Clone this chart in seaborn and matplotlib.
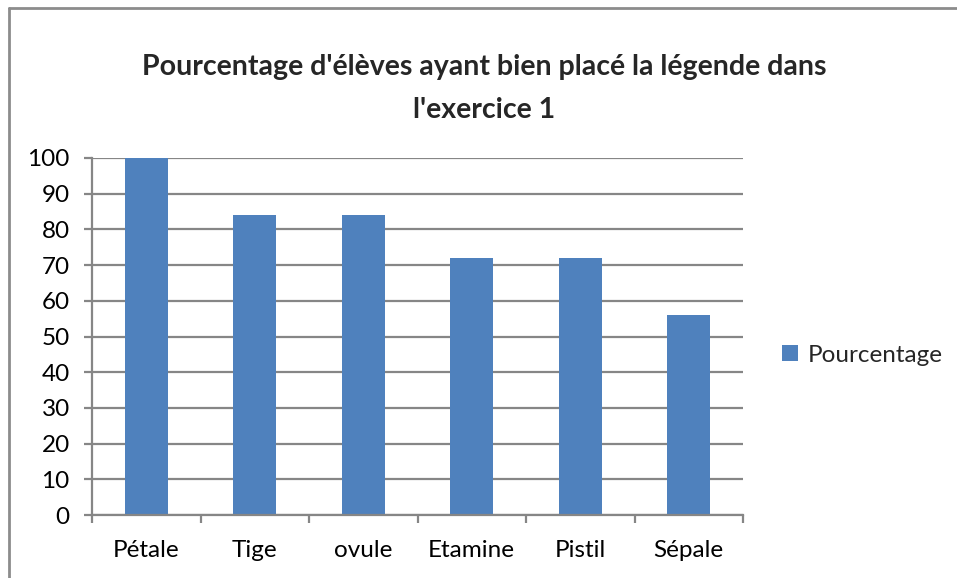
import matplotlib
matplotlib.use("Agg")
import matplotlib.pyplot as plt
from matplotlib.lines import Line2D
from matplotlib.ticker import FixedLocator
import seaborn as sns
import pandas as pd

categories = ["Pétale", "Tige", "ovule", "Etamine", "Pistil", "Sépale"]
values = [100, 84, 84, 72, 72, 56]
series_name = "Pourcentage"
yticks = [0, 10, 20, 30, 40, 50, 60, 70, 80, 90, 100]
title_lines = ["Pourcentage d'élèves ayant bien placé la légende dans", "l'exercice 1"]

sns.set_theme(style="white")
plt.rcParams["font.family"] = ["Lato", "DejaVu Sans"]

W, H = 957, 578
fig = plt.figure(figsize=(W / 100, H / 100), dpi=100)
fig.patch.set_facecolor("white")

ax = fig.add_axes([92 / W, 1 - 515 / H, (743 - 92) / W, (515 - 158) / H])
df = pd.DataFrame({"cat": categories, "val": values})
grid_c = "#868686"
sns.barplot(data=df, x="cat", y="val", color="#4F81BD", width=0.4, ax=ax,
            label=series_name, saturation=1, linewidth=0, edgecolor="none")

ax.set_xlim(-0.5, len(categories) - 0.5)
ax.set_ylim(0, 100)
ax.set_yticks(yticks)
ax.set_yticklabels([str(v) for v in yticks])
ax.set_xlabel("")
ax.set_ylabel("")
ax.yaxis.grid(True, color=grid_c, linewidth=1.6)
ax.set_axisbelow(True)
for s in ["top", "right"]:
    ax.spines[s].set_visible(False)
for s in ["left", "bottom"]:
    ax.spines[s].set_color(grid_c)
    ax.spines[s].set_linewidth(1.6)

fs = 17.5
ax.tick_params(axis="y", which="major", length=6, width=1.6, color=grid_c,
               labelsize=fs, pad=10, labelcolor="black", left=True)
ax.tick_params(axis="x", which="major", length=0, labelsize=fs, pad=18,
               labelcolor="black")
ax.xaxis.set_minor_locator(FixedLocator([i - 0.5 for i in range(len(categories) + 1)]))
ax.tick_params(axis="x", which="minor", length=6, width=1.6, color=grid_c, bottom=True)

ax.legend(loc="center left", bbox_to_anchor=(782 / W, 1 - 355 / H),
          bbox_transform=fig.transFigure, frameon=False, fontsize=fs,
          handlelength=0.65, handleheight=0.65, handletextpad=0.4, borderpad=0,
          borderaxespad=0)

fig.text(484 / W, 1 - 67 / H, title_lines[0], ha="center", va="center",
         fontsize=20.5, fontweight="bold")
fig.text(484 / W, 1 - 110 / H, title_lines[1], ha="center", va="center",
         fontsize=20.5, fontweight="bold")

bc = "#8c8c8c"
fig.add_artist(Line2D([9 / W, 9 / W], [0, 1 - 8 / H], color=bc, linewidth=2,
                      transform=fig.transFigure))
fig.add_artist(Line2D([9 / W, 1], [1 - 8 / H, 1 - 8 / H], color=bc, linewidth=2,
                      transform=fig.transFigure))

fig.savefig("out.png", dpi=100, facecolor="white")
